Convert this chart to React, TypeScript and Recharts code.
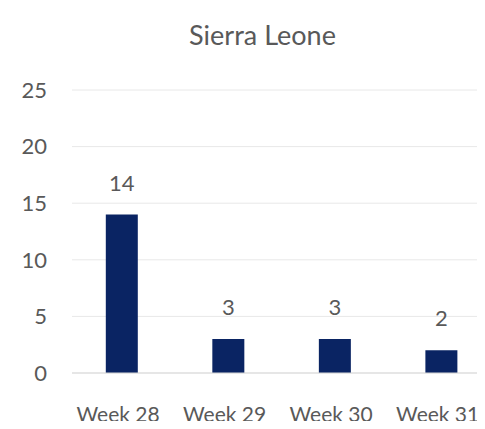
import React from "react";
import { BarChart, Bar, XAxis, YAxis, CartesianGrid, LabelList } from "recharts";

const weeks = ["Week 28", "Week 29", "Week 30", "Week 31"];
const cases = [14, 3, 3, 2];
const yTicks = [0, 5, 10, 15, 20, 25];
const title = "Sierra Leone";

const data = weeks.map((w, i) => ({ idx: i, week: w, value: cases[i] }));

const FONT = "Lato, 'Open Sans', sans-serif";
const TEXT = "#595959";

export default function App() {
  return (
    <div style={{ position: "relative", width: 485, height: 429, margin: -8, background: "#fff", fontFamily: FONT }}>
      <div
        style={{
          position: "absolute",
          left: 0,
          width: 525,
          top: 19,
          textAlign: "center",
          fontSize: 27,
          color: TEXT,
          lineHeight: "32px",
        }}
      >
        {title}
      </div>
      <BarChart
        width={485}
        height={429}
        data={data}
        margin={{ top: 90, right: 5, bottom: 0, left: 0 }}
        style={{ overflow: "visible" }}
      >
        <CartesianGrid vertical={false} stroke="#e8e8e8" />
        <XAxis
          type="number"
          dataKey="idx"
          domain={[-0.47, 3.36]}
          ticks={[0, 1, 2, 3]}
          allowDataOverflow
          tickFormatter={(i: number) => weeks[i]}
          height={56}
          tickLine={false}
          tickSize={0}
          tickMargin={34}
          axisLine={{ stroke: "#d9d9d9" }}
          tick={{ fill: TEXT, fontSize: 21, fontFamily: FONT, dx: -4 }}
          interval={0}
        />
        <YAxis
          domain={[0, 25]}
          ticks={yTicks}
          width={72}
          tickLine={false}
          axisLine={false}
          tickSize={0}
          tickMargin={25}
          tick={{ fill: TEXT, fontSize: 22, fontFamily: FONT }}
        />
        <Bar dataKey="value" fill="#0a2463" barSize={32} isAnimationActive={false}>
          <LabelList dataKey="value" position="top" offset={24} fill={TEXT} fontSize={22} fontFamily={FONT} />
        </Bar>
      </BarChart>
    </div>
  );
}
